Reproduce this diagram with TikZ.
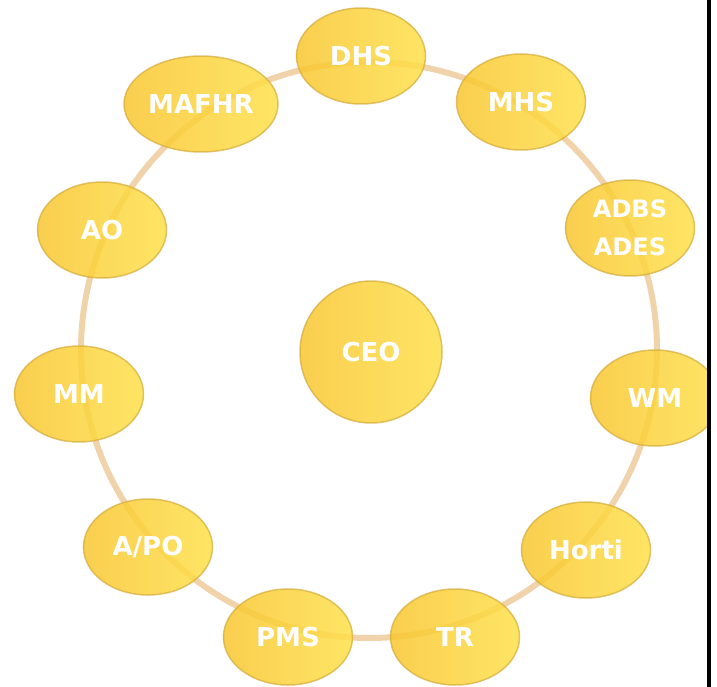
\documentclass[tikz,border=0pt]{standalone}
\usepackage{fontspec}
\setmainfont{DejaVu Sans}
\usetikzlibrary{shapes.geometric}
\definecolor{ringtan}{HTML}{EFCB9C}
\definecolor{golddark}{HTML}{F8C630}
\definecolor{goldlight}{HTML}{FFE04A}
\definecolor{goldrim}{HTML}{D4AC3A}
\begin{document}
\begin{tikzpicture}[x=1pt,y=-1pt,
  unit/.style={ellipse,minimum width=129pt,minimum height=96pt,inner sep=0pt,
    left color=golddark,right color=goldlight,fill opacity=0.85,
    draw=goldrim,line width=1.5pt,draw opacity=0.7,text opacity=1,
    text=white,font=\bfseries\fontsize{26}{28}\selectfont,align=center},
  head/.style={unit,circle,minimum size=142pt}]
\useasboundingbox (0,0) rectangle (717,687);
% the ring behind the offices
\draw[ringtan,line width=6pt,opacity=0.85] (369,350) circle (288);
\node[head] (ceo) at (371,352) {CEO};
\node[unit] (dhs) at (361,56) {DHS};
\node[unit] (mhs) at (521,102) {MHS};
\node[unit,font=\bfseries\fontsize{24}{38}\selectfont] (adbs) at (630,228) {ADBS\\ADES};
\node[unit] (wm) at (655,398) {WM};
\node[unit] (horti) at (586,550) {Horti};
\node[unit] (tr) at (455,637) {TR};
\node[unit] (pms) at (288,637) {PMS};
\node[unit] (apo) at (148,547) {A/PO};
\node[unit] (mm) at (79,394) {MM};
\node[unit] (ao) at (102,230) {AO};
\node[unit,minimum width=154pt] (mafhr) at (201,104) {MAFHR};
% right edge
\fill[white] (711,0) rectangle (717,687);
\draw[black,line width=3.5pt] (709,0) -- (709,687);
\end{tikzpicture}
\end{document}
